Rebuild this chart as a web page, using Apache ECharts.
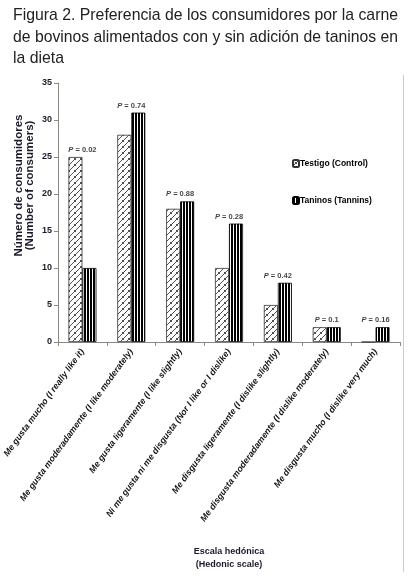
<!DOCTYPE html>
<html><head><meta charset="utf-8">
<script src="https://cdn.jsdelivr.net/npm/echarts@6/dist/echarts.min.js"></script>
<style>html,body{margin:0;padding:0;background:#fff}#c{width:409px;height:582px}</style>
</head><body><div id="c"></div>
<script>
var titleLines = [
  'Figura 2. Preferencia de los consumidores por la carne',
  'de bovinos alimentados con y sin adición de taninos en',
  'la dieta'
];
var categories = [
  'Me gusta mucho (I really like it)',
  'Me gusta moderadamente (I like moderately)',
  'Me gusta ligeramente (I like slightly)',
  'Ni me gusta ni me disgusta (Nor I like or I dislike)',
  'Me disgusta ligeramente (I dislike slightly)',
  'Me disgusta moderadamente (I dislike moderately)',
  'Me disgusta mucho (I dislike very much)'
];
var controlValues = [25, 28, 18, 10, 5, 2, 0];
var tanninValues = [10, 31, 19, 16, 8, 2, 2];
var pValues = ['0.02', '0.74', '0.88', '0.28', '0.42', '0.1', '0.16'];
var yTicks = [0, 5, 10, 15, 20, 25, 30, 35];

function makeHatch() {
  var c = document.createElement('canvas'); c.width = 6; c.height = 6;
  var g = c.getContext('2d');
  g.fillStyle = '#fff'; g.fillRect(0, 0, 6, 6);
  g.strokeStyle = '#222'; g.lineWidth = 0.8;
  g.beginPath();
  g.moveTo(-1, 7); g.lineTo(7, -1);
  g.moveTo(2, 2); g.lineTo(4, 4);
  g.stroke();
  return c;
}
function makeStripes() {
  var c = document.createElement('canvas'); c.width = 3; c.height = 3;
  var g = c.getContext('2d');
  g.fillStyle = '#fff'; g.fillRect(0, 0, 3, 3);
  g.fillStyle = '#000'; g.fillRect(0, 0, 2, 3);
  return c;
}
var hatch = { image: makeHatch(), repeat: 'repeat' };
var stripes = { image: makeStripes(), repeat: 'repeat' };

var maxValues = controlValues.map(function (v, i) { return Math.max(v, tanninValues[i]); });

// title as justified text lines (horizontally condensed to the reference width)
var titleFont = '17px "Liberation Sans", Arial, sans-serif';
var mctx = document.createElement('canvas').getContext('2d');
mctx.font = titleFont;
var titleLeft = 13, titleRight = 398;
var s1 = (titleRight - titleLeft) / mctx.measureText(titleLines[0]).width;
var s2 = (titleRight - titleLeft) / mctx.measureText(titleLines[1]).width;
var titleScales = [s1, s2, s1];
var titleMids = [15, 37, 58];
var titleGraphics = titleLines.map(function (t, i) {
  return {
    type: 'text', x: titleLeft, y: titleMids[i], scaleX: titleScales[i], silent: true,
    style: { text: t, font: titleFont, fill: '#222', verticalAlign: 'middle', align: 'left' }
  };
});

var chart = echarts.init(document.getElementById('c'));
chart.setOption({
  animation: false,
  legend: {
    orient: 'vertical', left: 287, top: 154, itemGap: 28,
    itemWidth: 6, itemHeight: 7,
    textStyle: { fontFamily: 'Liberation Sans', fontSize: 8.5, fontWeight: 'bold', color: '#000', padding: [0, 0, 0, -4] },
    data: ['Testigo (Control)', 'Taninos (Tannins)']
  },
  grid: { left: 58, right: 9, top: 83, bottom: 240, containLabel: false },
  xAxis: {
    type: 'category', data: categories,
    name: 'Escala hedónica\n(Hedonic scale)', nameLocation: 'middle', nameGap: 203,
    nameTextStyle: { fontFamily: 'Liberation Sans', fontSize: 9, fontWeight: 'bold', color: '#1a1a2a', lineHeight: 13 },
    axisLine: { lineStyle: { color: '#888', width: 1 } },
    axisTick: { show: true, length: 4, lineStyle: { color: '#888' } },
    axisLabel: { interval: 0, rotate: 54, margin: 8, fontFamily: 'Liberation Sans', fontSize: 8.8, fontWeight: 'bold', fontStyle: 'italic', color: '#111' }
  },
  yAxis: {
    type: 'value', min: 0, max: 35, interval: 5,
    name: 'Número de consumidores\n(Number of consumers)', nameLocation: 'middle', nameGap: 23, nameRotate: 90,
    nameMoveOverlap: false,
    nameTextStyle: { fontFamily: 'Liberation Sans', fontSize: 11.5, fontWeight: 'bold', color: '#1a1a2a', lineHeight: 10.5, padding: [0, 0, 0, 54] },
    axisLine: { show: true, lineStyle: { color: '#888', width: 1 } },
    axisTick: { show: true, length: 4, lineStyle: { color: '#888' } },
    splitLine: { show: false },
    axisLabel: {
      margin: 6, fontFamily: 'Liberation Sans', fontSize: 9, fontWeight: 'bold', color: '#1a1a2a',
      formatter: function (v) { return yTicks.indexOf(v) >= 0 ? String(v) : ''; }
    }
  },
  series: [
    {
      name: 'Testigo (Control)', type: 'bar', data: controlValues, barWidth: 14, barGap: '0%',
      itemStyle: { color: hatch, borderColor: '#333', borderWidth: 0.8 }
    },
    {
      name: 'Taninos (Tannins)', type: 'bar', data: tanninValues, barWidth: 14, barGap: '0%',
      itemStyle: { color: stripes, borderColor: '#000', borderWidth: 0.8 }
    },
    {
      name: 'P', type: 'scatter', data: maxValues, symbolSize: 0, silent: true,
      label: {
        show: true, position: 'top', distance: 3,
        formatter: function (p) { return '{i|P} = ' + pValues[p.dataIndex]; },
        fontFamily: 'Liberation Sans', fontSize: 7.5, fontWeight: 'bold', color: '#111',
        rich: { i: { fontStyle: 'italic', fontWeight: 'bold', fontSize: 7.5, fontFamily: 'Liberation Sans', color: '#111' } }
      }
    }
  ],
  graphic: titleGraphics.concat([
    { type: 'line', silent: true, shape: { x1: 403.5, y1: 75, x2: 403.5, y2: 572 }, style: { stroke: '#ccc', lineWidth: 1 } }
  ])
});
</script></body></html>
